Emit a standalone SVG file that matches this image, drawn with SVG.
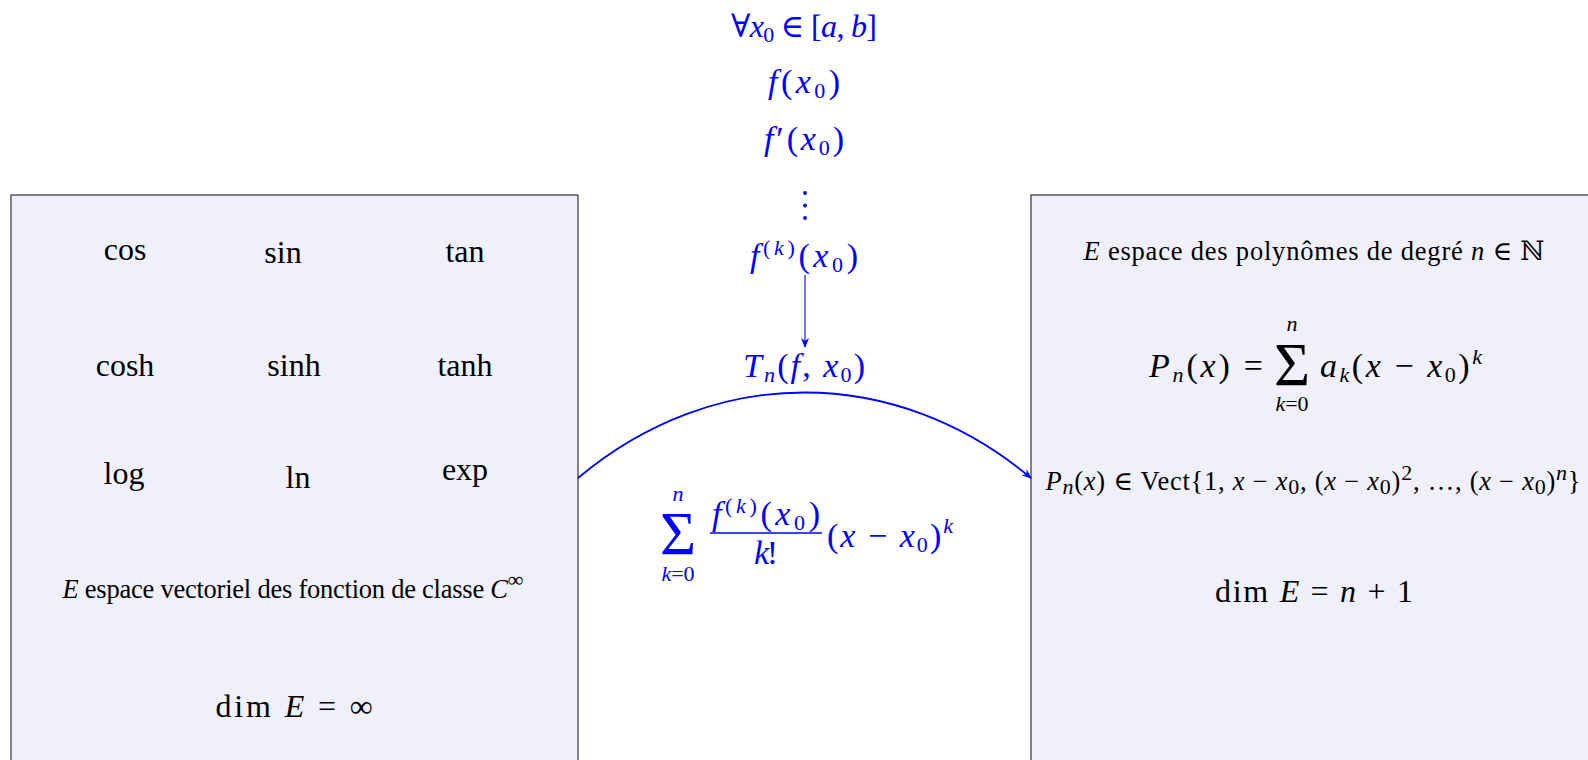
<svg xmlns="http://www.w3.org/2000/svg" width="1588" height="760" viewBox="0 0 1588 760">
<style>
text { font-family: "Liberation Serif", "DejaVu Serif", serif; fill: #000; }
.i { font-style: italic; }
.b { fill: #0000ff; }
.L { font-size: 32px; }
.X { font-size: 34px; }
.M { font-size: 26.5px; }
.s { font-size: 22px; }
.box { fill: #f0f0fc; stroke: #333; stroke-width: 1.2; }
.c { text-anchor: middle; }
</style>
<defs>
<marker id="ah" viewBox="0 0 10 10" refX="9" refY="5" markerWidth="10" markerHeight="10" markerUnits="userSpaceOnUse" orient="auto">
<path d="M0,1 L10,5 L0,9 L3,5 Z" fill="#0000ff"/>
</marker>
</defs>

<g id="left-box">
<rect class="box" x="11" y="195" width="567" height="620"/>
<text class="L c" x="125" y="260">cos</text>
<text class="L c" x="283" y="263">sin</text>
<text class="L c" x="465" y="262">tan</text>
<text class="L c" x="125" y="376">cosh</text>
<text class="L c" x="294" y="376">sinh</text>
<text class="L c" x="465" y="376">tanh</text>
<text class="L c" x="124" y="484">log</text>
<text class="L c" x="298" y="488">ln</text>
<text class="L c" x="465" y="480">exp</text>
<text class="M c" x="293" y="598" textLength="461"><tspan class="i">E</tspan> espace vectoriel des fonction de classe <tspan class="i">C</tspan><tspan class="s" dy="-11">∞</tspan></text>
<text class="L c" x="294" y="717" textLength="157">dim <tspan class="i">E</tspan> = ∞</text>
</g>

<g id="right-box">
<rect class="box" x="1031" y="195" width="620" height="620"/>
<text class="M c" x="1314" y="260" textLength="461"><tspan class="i">E</tspan> espace des polynômes de degré <tspan class="i">n</tspan> ∈ ℕ</text>
<text class="X" x="1263" y="377" text-anchor="end" textLength="114"><tspan class="i">P</tspan><tspan class="s i" dy="5">n</tspan><tspan dy="-5">(</tspan><tspan class="i">x</tspan>) =</text>
<text x="1292" y="385" style="font-size:62px" class="c">Σ</text>
<text class="s c i" x="1292" y="331">n</text>
<text class="s c" x="1292" y="411"><tspan class="i">k</tspan>=0</text>
<text class="X" x="1320" y="377" textLength="162"><tspan class="i">a</tspan><tspan class="s i" dy="5">k</tspan><tspan dy="-5">(</tspan><tspan class="i">x</tspan> − <tspan class="i">x</tspan><tspan class="s" dy="5">0</tspan><tspan dy="-5">)</tspan><tspan class="s i" dy="-13">k</tspan></text>
<text class="M c" x="1313" y="490" textLength="535"><tspan class="i">P</tspan><tspan class="s i" dy="4">n</tspan><tspan dy="-4">(</tspan><tspan class="i">x</tspan>) ∈ Vect{1, <tspan class="i">x</tspan> − <tspan class="i">x</tspan><tspan class="s" dy="4">0</tspan><tspan dy="-4">, (</tspan><tspan class="i">x</tspan> − <tspan class="i">x</tspan><tspan class="s" dy="4">0</tspan><tspan dy="-4">)</tspan><tspan class="s" dy="-10">2</tspan><tspan dy="10">, …, (</tspan><tspan class="i">x</tspan> − <tspan class="i">x</tspan><tspan class="s" dy="4">0</tspan><tspan dy="-4">)</tspan><tspan class="s i" dy="-10">n</tspan><tspan dy="10">}</tspan></text>
<text class="L c" x="1314" y="602" textLength="198">dim <tspan class="i">E</tspan> = <tspan class="i">n</tspan> + 1</text>
</g>

<g id="taylor-labels">
<text class="L c b" x="804" y="37" textLength="146">∀<tspan class="i">x</tspan><tspan class="s" dy="5">0</tspan><tspan dy="-5"> ∈ [</tspan><tspan class="i">a</tspan>, <tspan class="i">b</tspan>]</text>
<text class="X c b" x="804" y="93" textLength="72"><tspan class="i">f</tspan>(<tspan class="i">x</tspan><tspan class="s" dy="5">0</tspan><tspan dy="-5">)</tspan></text>
<text class="X c b" x="804" y="150" textLength="80"><tspan class="i">f</tspan>′(<tspan class="i">x</tspan><tspan class="s" dy="5">0</tspan><tspan dy="-5">)</tspan></text>
<circle cx="805" cy="193" r="1.9" fill="#0000ff"/>
<circle cx="805" cy="205.5" r="1.9" fill="#0000ff"/>
<circle cx="805" cy="218" r="1.9" fill="#0000ff"/>
<text class="X c b" x="804" y="267" textLength="108"><tspan class="i">f</tspan><tspan class="s" dy="-12">(<tspan class="i">k</tspan>)</tspan><tspan dy="12">(</tspan><tspan class="i">x</tspan><tspan class="s" dy="5">0</tspan><tspan dy="-5">)</tspan></text>
<text class="X c b" x="804" y="377" textLength="122"><tspan class="i">T</tspan><tspan class="s i" dy="5">n</tspan><tspan dy="-5">(</tspan><tspan class="i">f</tspan>, <tspan class="i">x</tspan><tspan class="s" dy="5">0</tspan><tspan dy="-5">)</tspan></text>
</g>

<g id="taylor-sum">
<text class="b c" x="678" y="554" style="font-size:62px">Σ</text>
<text class="s c i b" x="678" y="501">n</text>
<text class="s c b" x="678" y="581"><tspan class="i">k</tspan>=0</text>
<text class="X c b" x="766" y="525" textLength="108"><tspan class="i">f</tspan><tspan class="s" dy="-12">(<tspan class="i">k</tspan>)</tspan><tspan dy="12">(</tspan><tspan class="i">x</tspan><tspan class="s" dy="5">0</tspan><tspan dy="-5">)</tspan></text>
<line x1="710" y1="533" x2="822" y2="533" stroke="#0000ff" stroke-width="1.3"/>
<text class="X c b" x="766" y="564" textLength="24"><tspan class="i">k</tspan>!</text>
<text class="X b" x="827" y="547" textLength="126">(<tspan class="i">x</tspan> − <tspan class="i">x</tspan><tspan class="s" dy="5">0</tspan><tspan dy="-5">)</tspan><tspan class="s i" dy="-14">k</tspan></text>
</g>

<g id="connectors" fill="none" stroke="#0000ff">
<line x1="805" y1="275" x2="805" y2="347" stroke-width="1.1" marker-end="url(#ah)"/>
<path d="M578,478 C714,364 895,364 1031,478" stroke-width="1.8" marker-end="url(#ah)"/>
</g>
</svg>
